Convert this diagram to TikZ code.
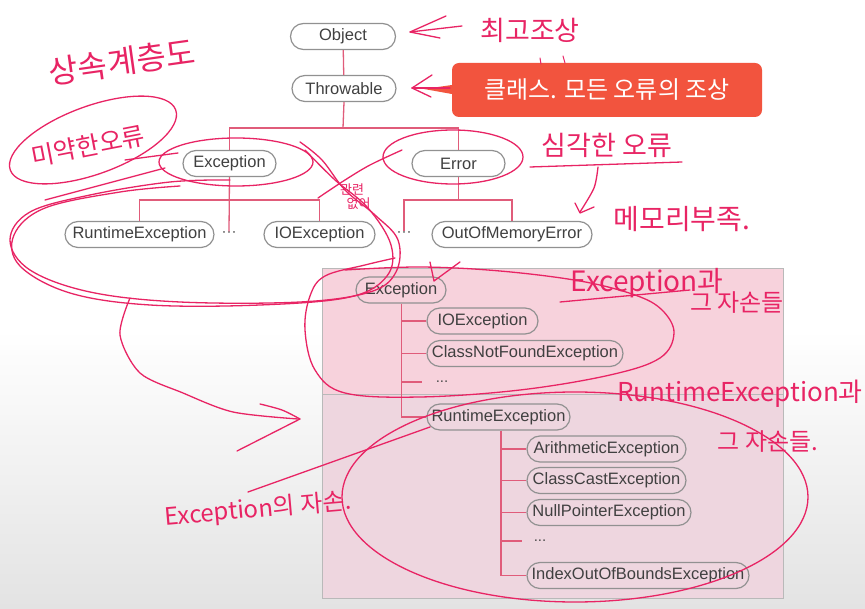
\documentclass[tikz,border=0pt]{standalone}
\usepackage{fontspec}
\setmainfont{Liberation Sans}
\newfontfamily\kr{Noto Sans CJK KR}
\usetikzlibrary{shapes.misc,arrows.meta}
\definecolor{ink}{RGB}{232,36,100}
\definecolor{conn}{RGB}{224,92,122}
\definecolor{boxA}{RGB}{247,210,220}
\definecolor{boxB}{RGB}{238,214,223}
\definecolor{callout}{RGB}{242,84,62}
\definecolor{pillline}{RGB}{145,145,145}
\begin{document}
\begin{tikzpicture}[x=1pt,y=-1pt,
  pill/.style={draw=pillline, line width=1.2pt, rounded rectangle, minimum height=26pt, inner xsep=5pt, inner ysep=0pt,
    font=\fontsize{16.5}{17}\selectfont, text=black!75, fill=white},
  bpill/.style={pill, fill=none},
  dotsnode/.style={font=\fontsize{15}{16}\selectfont, text=black!70, inner ysep=0pt},
  conn/.style={draw=conn, line width=1.3pt},
  ink/.style={draw=ink, line width=1.3pt, line cap=round, line join=round},
  hand/.style={text=ink, inner sep=0pt, font=\kr\fontsize{#1}{#1}\selectfont},
]
\useasboundingbox (0,0) rectangle (865,609);
\fill[white] (0,0) rectangle (865,609);
\shade[top color=white, bottom color=gray!22] (0,330) rectangle (865,609);

% ---------- lower box ----------
\fill[boxA] (322,268) rectangle (783,394);
\fill[boxB] (322,394) rectangle (783,598);
\draw[gray!55, line width=0.8pt] (322,268) rectangle (783,598);
\draw[gray!55, line width=0.8pt] (322,394) -- (783,394);

% ---------- top tree ----------
\node[pill, minimum width=115pt] (obj) at (343,36.5) {Object};
\node[pill, minimum width=114pt] (thr) at (344,88.5) {Throwable};
\node[pill, minimum width=103pt] (exc) at (229.5,163.5) {Exception};
\node[pill, minimum width=103pt] (err) at (458.5,163.5) {Error};
\node[pill, minimum width=147pt] (rte) at (139.5,234.5) {RuntimeException};
\node[dotsnode] (d1) at (229,234) {···};
\node[pill, minimum width=121pt] (ioe) at (319.5,234.5) {IOException};
\node[dotsnode] (d2) at (404,234) {···};
\node[pill, minimum width=170pt] (oom) at (512,234.5) {OutOfMemoryError};

\coordinate (j1) at (343,128);
\coordinate (j2) at (229.5,200);
\coordinate (j3) at (458.5,200);
\draw[conn] (obj) -- (thr);
\draw[conn] (thr.south) -- (j1);
\draw[conn] (exc.north) |- (j1) -| (err.north);
\draw[conn] (exc.south) -- (d1.north);
\draw[conn] (rte.north) |- (j2) -| (ioe.north);
\draw[conn] (err.south) -- (j3);
\draw[conn] (d2.north) |- (j3) -| (oom.north);

% ---------- box tree ----------
\node[bpill, minimum width=100pt] (bexc) at (401,290) {Exception};
\node[bpill, minimum width=121pt] (bio) at (482.5,321) {IOException};
\node[bpill, minimum width=206pt] (bcnf) at (525,353.5) {ClassNotFoundException};
\node[dotsnode, inner xsep=14pt] (d3) at (442,382) {...};
\node[bpill, minimum width=153pt] (brt) at (498.5,417) {RuntimeException};
\node[bpill, minimum width=169pt] (bar) at (606.5,449) {ArithmeticException};
\node[bpill, minimum width=169pt] (bcc) at (606.5,480.5) {ClassCastException};
\node[bpill, minimum width=174pt] (bnp) at (609,512.5) {NullPointerException};
\node[dotsnode, inner xsep=12pt] (d4) at (540,541) {...};
\node[bpill, minimum width=232pt] (bix) at (638,575.5) {IndexOutOfBoundsException};

\coordinate (t1) at (401.5,417);
\coordinate (t2) at (501,575.5);
\draw[conn] (bexc.south -| t1) -- (t1) -- (brt.west);
\draw[conn] (t1 |- bio.west) -- (bio.west);
\draw[conn] (t1 |- bcnf.west) -- (bcnf.west);
\draw[conn] (t1 |- d3.west) -- (d3.west);
\draw[conn] (brt.south -| t2) -- (t2) -- (bix.west);
\draw[conn] (t2 |- bar.west) -- (bar.west);
\draw[conn] (t2 |- bcc.west) -- (bcc.west);
\draw[conn] (t2 |- bnp.west) -- (bnp.west);
\draw[conn] (t2 |- d4.west) -- (d4.west);

% ---------- callout ----------
\node[fill=callout, rounded corners=7pt, text=white, inner sep=0pt,
  font=\kr\fontsize{24}{24}\selectfont, minimum width=310pt, minimum height=54pt] (call) at (607,90) {클래스. 모든 오류의 조상};
\coordinate (tail) at (424,89);
\fill[callout] ([yshift=5pt]call.west) -- (tail) -- ([yshift=-4pt]call.west) -- cycle;

% ---------- handwritten annotations ----------
\node[hand=32, rotate=8] (h1) at (122,62) {상속계층도};
\node[hand=27] (h2) at (530,30) {최고조상};
\node[hand=25, rotate=11] (h3) at (88,146) {미약한오류};
\node[hand=27] (h4) at (607,145) {심각한 오류};
\node[hand=28] (h5) at (682,219) {메모리부족.};
\node[hand=28] (h6) at (647,283) {Exception과};
\node[hand=24] (h7) at (737,303) {그 자손들};
\node[hand=26] (h8) at (740,394) {RuntimeException과};
\node[hand=24] (h9) at (768,442) {그 자손들.};
\node[hand=24, rotate=5] (h10) at (258,510) {Exception의 자손.};
\node[hand=13, align=center, font=\kr\fontsize{13}{14}\selectfont] (h11) at (352,197) {관련\\\quad 없어};

% arrows to Object / Throwable
\draw[ink] (462,26) -- (410,32);
\draw[ink] (446,16) -- (410,32) -- (440,38);
\draw[ink] (450,88) -- (412,88);
\draw[ink] (432,75) -- (412,88) -- (431,97);

% ellipse round 미약한오류
\draw[ink, rotate around={20:(93,140)}] (93,140) ellipse [x radius=88pt, y radius=34pt];
\draw[ink] (45,200) -- (165,168);
\draw[ink] (125,160) -- (178,153);

% ellipse round Exception and big loop
\draw[ink] (236,162) ellipse [x radius=77pt, y radius=24pt];
\draw[ink] plot[smooth, tension=0.6] coordinates {(300,142) (322,160) (345,190) (375,215) (398,240) (396,272) (370,292) (300,302) (180,302) (90,292) (30,270) (10,240) (30,212) (90,195) (170,182) (230,180)};
\draw[ink] plot[smooth, tension=0.6] coordinates {(305,150) (335,180) (368,208) (391,245) (387,276) (350,297) (260,305) (150,305) (70,293) (20,266) (14,235) (45,208) (120,192) (180,186)};

% ellipse round Error
\draw[ink] (453,157) ellipse [x radius=70pt, y radius=27pt];
\draw[ink] plot[smooth] coordinates {(402,150) (370,165) (345,180) (318,198)};

% 심각한 오류 underline and arrow
\draw[ink] (530,167) -- (682,162);
\draw[ink] plot[smooth] coordinates {(598,167) (594,188) (580,212)};
\draw[ink] (575,203) -- (580,213) -- (594,207);

% check mark
\draw[ink] (430,262) -- (434,281) -- (460,262);

% loop round Exception in box
\draw[ink] plot[smooth, tension=0.6] coordinates {(395,258) (365,265) (325,276) (310,296) (305,330) (315,370) (345,393) (420,397) (520,390) (610,375) (660,358) (674,333) (662,310) (635,295) (580,281) (500,271) (420,267) (345,270)};
\draw[ink] (560,302) -- (690,290);

% ellipse round RuntimeException descendants
\draw[ink] (575,497) ellipse [x radius=233pt, y radius=105pt];

% pointer for Exception의 자손
\draw[ink] (430,427) -- (248,492);

% arrow from the top loop to the box
\draw[ink] plot[smooth] coordinates {(130,298) (120,335) (140,373) (183,393) (233,412) (298,419)};
\draw[ink] plot[smooth] coordinates {(260,404) (282,410) (300,419)};
\draw[ink] (300,419) -- (237,451);

% little marks above the callout
\draw[ink, line width=1pt] (540,58) -- (541,64);
\draw[ink, line width=1pt] (563,56) -- (565,63);
\end{tikzpicture}
\end{document}
